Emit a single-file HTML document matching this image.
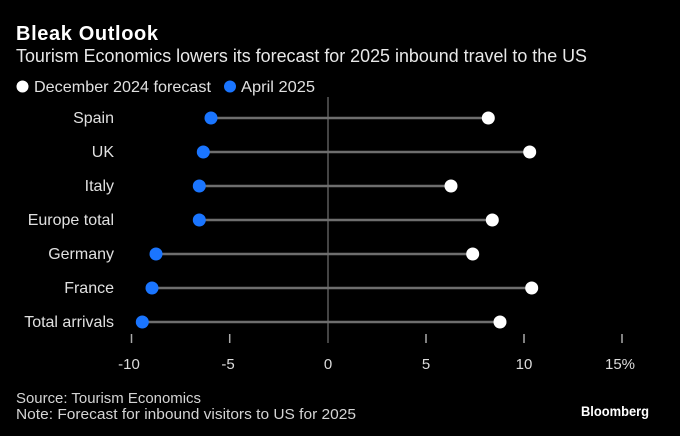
<!DOCTYPE html>
<html><head><meta charset="utf-8"><style>
html,body{margin:0;padding:0;background:#000;}
svg{display:block;}
text{font-family:"Liberation Sans",sans-serif;}
</style></head><body>
<svg width="680" height="436" viewBox="0 0 680 436" xmlns="http://www.w3.org/2000/svg">
<rect width="680" height="436" fill="#000"/>
<text x="16" y="40" font-size="20" font-weight="bold" fill="#fff" textLength="142" lengthAdjust="spacing">Bleak Outlook</text>
<text x="16" y="62" font-size="18" fill="#e8e8e8" textLength="571" lengthAdjust="spacingAndGlyphs">Tourism Economics lowers its forecast for 2025 inbound travel to the US</text>
<circle cx="22.5" cy="86.5" r="6" fill="#fff"/>
<text x="34" y="92" font-size="16" fill="#e0e0e0" textLength="177" lengthAdjust="spacingAndGlyphs">December 2024 forecast</text>
<circle cx="230" cy="86.5" r="6" fill="#1a75ff"/>
<text x="241" y="92" font-size="16" fill="#e0e0e0" textLength="74" lengthAdjust="spacingAndGlyphs">April 2025</text>

<line x1="328" y1="97" x2="328" y2="343" stroke="#5a5a5a" stroke-width="1.5"/>
<g stroke="#aaa" stroke-width="1.5">
<line x1="131.5" y1="334" x2="131.5" y2="343"/>
<line x1="229.7" y1="334" x2="229.7" y2="343"/>
<line x1="426" y1="334" x2="426" y2="343"/>
<line x1="524" y1="334" x2="524" y2="343"/>
<line x1="622" y1="334" x2="622" y2="343"/>
</g>
<g font-size="15" fill="#dcdcdc" text-anchor="middle">
<text x="129" y="369">-10</text>
<text x="228" y="369">-5</text>
<text x="328" y="369">0</text>
<text x="426" y="369">5</text>
<text x="524" y="369">10</text>
<text x="620" y="369">15%</text>
</g>

<g stroke="#6e6e6e" stroke-width="2.5">
<line x1="211" y1="118" x2="488" y2="118"/>
<line x1="203" y1="152" x2="530" y2="152"/>
<line x1="199" y1="186" x2="451" y2="186"/>
<line x1="199" y1="220" x2="492" y2="220"/>
<line x1="156" y1="254" x2="473" y2="254"/>
<line x1="152" y1="288" x2="532" y2="288"/>
<line x1="142" y1="322" x2="500" y2="322"/>
</g>
<g fill="#1a75ff">
<circle cx="211" cy="118" r="6.5"/>
<circle cx="203.3" cy="152" r="6.5"/>
<circle cx="199.3" cy="186" r="6.5"/>
<circle cx="199.3" cy="220" r="6.5"/>
<circle cx="156" cy="254" r="6.5"/>
<circle cx="152" cy="288" r="6.5"/>
<circle cx="142.3" cy="322" r="6.5"/>
</g>
<g fill="#fff">
<circle cx="488.3" cy="118" r="6.5"/>
<circle cx="529.7" cy="152" r="6.5"/>
<circle cx="451" cy="186" r="6.5"/>
<circle cx="492.3" cy="220" r="6.5"/>
<circle cx="472.7" cy="254" r="6.5"/>
<circle cx="531.7" cy="288" r="6.5"/>
<circle cx="500" cy="322" r="6.5"/>
</g>
<g font-size="16" fill="#e0e0e0" text-anchor="end">
<text x="114" y="123">Spain</text>
<text x="114" y="157">UK</text>
<text x="114" y="191">Italy</text>
<text x="114" y="225">Europe total</text>
<text x="114" y="259">Germany</text>
<text x="114" y="293">France</text>
<text x="114" y="327">Total arrivals</text>
</g>

<text x="16" y="403" font-size="15" fill="#d4d4d4" textLength="185" lengthAdjust="spacingAndGlyphs">Source: Tourism Economics</text>
<text x="16" y="419" font-size="15" fill="#d4d4d4" textLength="340" lengthAdjust="spacingAndGlyphs">Note: Forecast for inbound visitors to US for 2025</text>
<text x="581" y="416" font-size="14" font-weight="bold" fill="#fff" textLength="68" lengthAdjust="spacingAndGlyphs">Bloomberg</text>
</svg>
</body></html>
